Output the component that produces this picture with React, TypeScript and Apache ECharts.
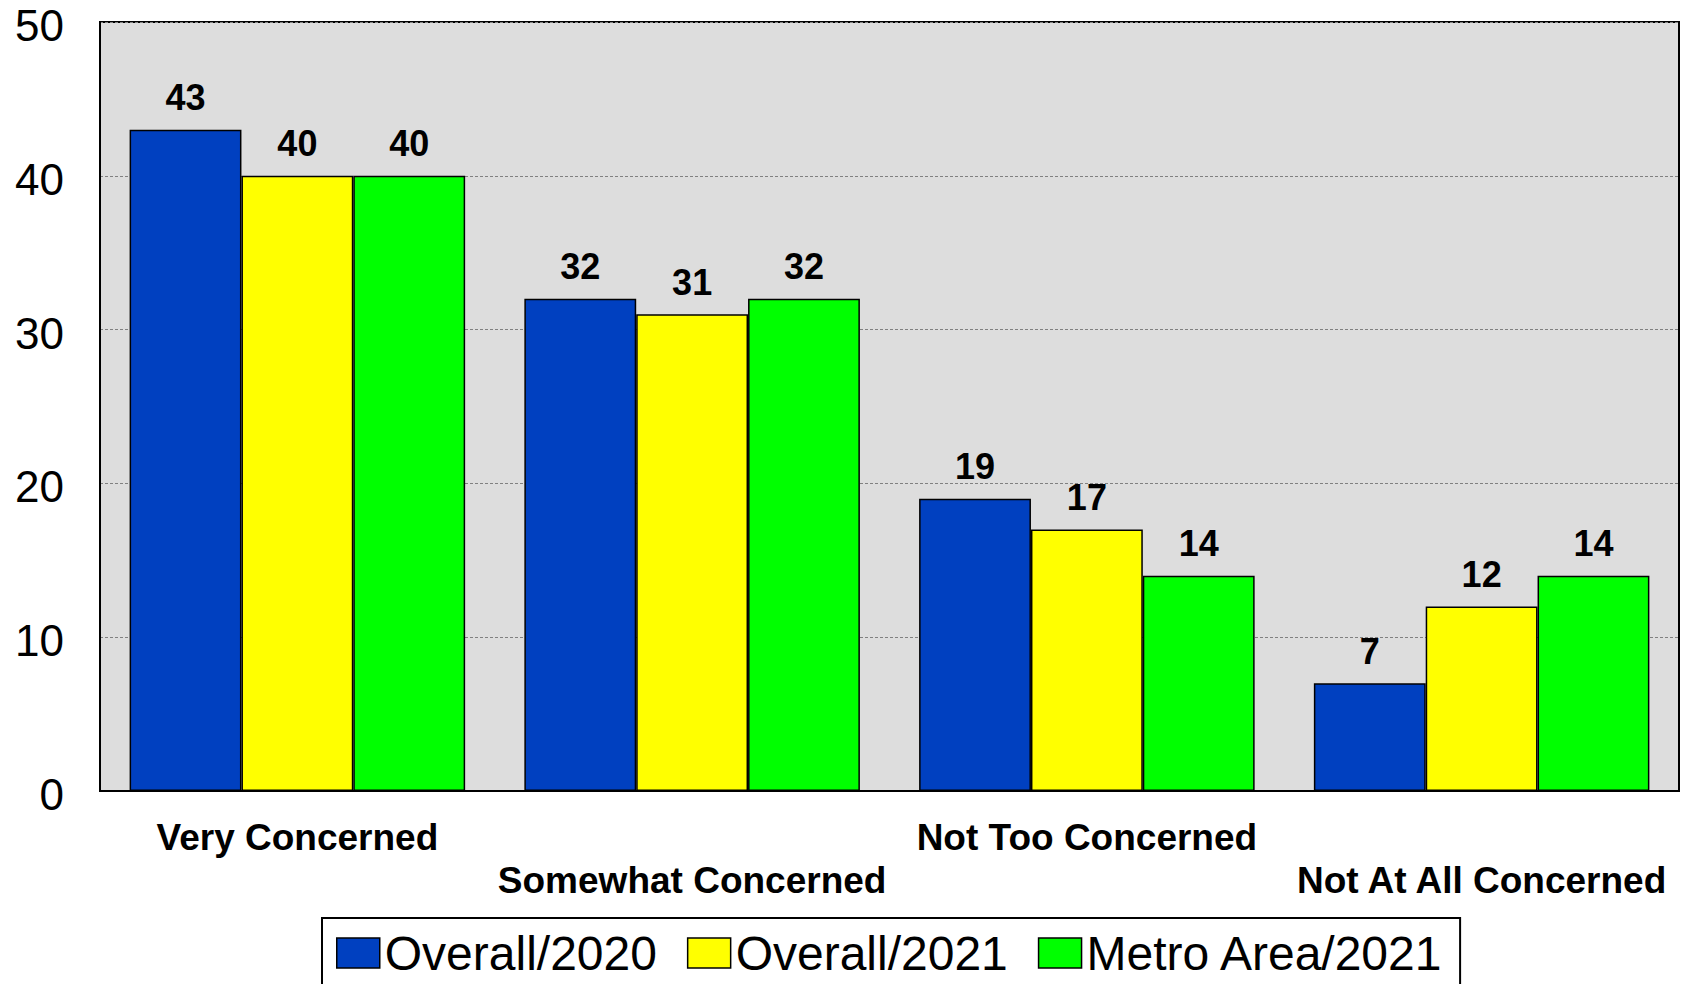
import React, { useEffect, useRef } from "react";
import * as echarts from "echarts";

const categories = ["Very Concerned", "Somewhat Concerned", "Not Too Concerned", "Not At All Concerned"];
const seriesNames = ["Overall/2020", "Overall/2021", "Metro Area/2021"];
const overall2020 = [43, 32, 19, 7];
const overall2021 = [40, 31, 17, 12];
const metro2021 = [40, 32, 14, 14];
const seriesColors = ["#0040C0", "#FFFF00", "#00FF00"];
const yTicks = { min: 0, max: 50, interval: 10 };

const FONT = "'Liberation Sans', Arial, Helvetica, sans-serif";

export default function App() {
  const ref = useRef<HTMLDivElement>(null);
  useEffect(() => {
    if (!ref.current) return;
    const chart = echarts.init(ref.current, undefined, { renderer: "svg" });
    const values = [overall2020, overall2021, metro2021];
    chart.setOption({
      animation: false,
      textStyle: { fontFamily: FONT },
      grid: {
        left: 100,
        top: 22,
        right: 5,
        bottom: 193,
        show: true,
        backgroundColor: "#DDDDDD",
        borderColor: "#000",
        borderWidth: 2,
        containLabel: false,
        outerBoundsMode: "none",
      },
      legend: {
        left: 322,
        top: 918,
        data: seriesNames,
        icon: "rect",
        itemWidth: 43,
        itemHeight: 30,
        itemGap: 30,
        selectedMode: false,
        borderColor: "#000",
        borderWidth: 2,
        padding: [10, 16, 10, 14],
        itemStyle: { borderColor: "#000", borderWidth: 1.5 },
        textStyle: { fontSize: 48, color: "#000", fontFamily: FONT, lineHeight: 50 },
      },
      xAxis: {
        type: "category",
        data: categories,
        axisLine: { show: true, lineStyle: { color: "#000", width: 2 } },
        axisTick: { show: false },
        axisLabel: {
          interval: 0,
          margin: 25,
          fontSize: 37,
          fontWeight: "bold",
          color: "#000",
          fontFamily: FONT,
          lineHeight: 43,
          formatter: (v: string, i: number) => (i % 2 === 1 ? "\n" + v : v),
        },
      },
      yAxis: {
        type: "value",
        min: yTicks.min,
        max: yTicks.max,
        interval: yTicks.interval,
        axisLine: { show: true, lineStyle: { color: "#000", width: 2 } },
        axisTick: { show: false },
        axisLabel: {
          color: "#000",
          margin: 36,
          formatter: "{v|{value}}",
          rich: {
            v: {
              fontSize: 44,
              color: "#000",
              fontFamily: FONT,
              lineHeight: 44,
              padding: [7, 0, 0, 0],
            },
          },
        },
        splitLine: { show: true, lineStyle: { color: "#808080", width: 1, type: [3, 2] } },
      },
      series: seriesNames.map((name, k) => ({
        name,
        type: "bar",
        data: values[k],
        barGap: "0%",
        barCategoryGap: "15%",
        itemStyle: { color: seriesColors[k], borderColor: "#000", borderWidth: 1.5 },
        label: {
          show: true,
          position: "top",
          distance: 14,
          fontSize: 36,
          fontWeight: "bold",
          color: "#000",
          fontFamily: FONT,
        },
      })),
    });
    return () => chart.dispose();
  }, []);
  return (
    <div
      ref={ref}
      style={{ position: "absolute", left: 0, top: 0, width: 1684, height: 984, overflow: "hidden", background: "#fff" }}
    />
  );
}
